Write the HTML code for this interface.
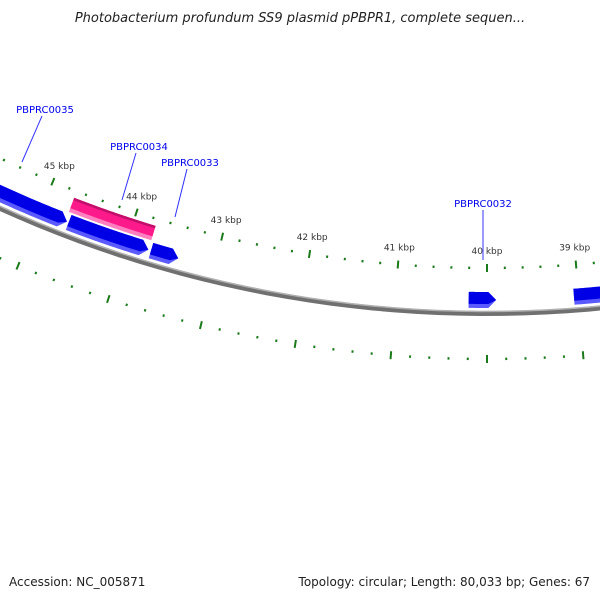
<!DOCTYPE html>
<html><head><meta charset="utf-8"><style>
body{margin:0;background:#fff}
svg{display:block;font-family:"DejaVu Sans","Liberation Sans",sans-serif}
</style></head><body>
<svg id="map" width="600" height="600" viewBox="0 0 600 600">
<text x="300" y="22" text-anchor="middle" font-size="13" font-style="italic" fill="#222">Photobacterium profundum SS9 plasmid pPBPR1, complete sequen...</text>
<g id="ticks"></g>
<g id="backbone"></g>
<g id="genes"></g>
<g id="labels"></g>
<text x="9" y="586" font-size="12" fill="#222">Accession: NC_005871</text>
<text x="590" y="586" text-anchor="end" font-size="12" fill="#222">Topology: circular; Length: 80,033 bp; Genes: 67</text>
</svg>
<script>
const geneNames=["gene-a","PBPRC0034b","PBPRC0033","PBPRC0034","PBPRC0032","gene-e"];
const geneStart=[44.69,43.75,43.41,43.75,39.90,37.5];
const geneEnd=[46.8,44.67,43.72,44.71,40.20,39.05];
const geneTrack=[1,1,1,2,1,1];
const geneArrow=[1,1,1,0,1,1];
const labelNames=["PBPRC0035","PBPRC0034","PBPRC0033","PBPRC0032"];
const labelKbp=[45.25,44.2,43.5,40.04];
const tickKbp=[36,37,38,39,40,41,42,43,44,45,46,47];
const genomeKbp=80.033;
const NS="http://www.w3.org/2000/svg";
const cx=487,cy=-867,R=1180;
const dpk=360/genomeKbp*Math.PI/180;
function pt(k,r){const t=(k-40)*dpk;return [cx-r*Math.sin(t),cy+r*Math.cos(t)];}
function mk(tag,attrs,parent){const e=document.createElementNS(NS,tag);for(const a in attrs)e.setAttribute(a,attrs[a]);parent.appendChild(e);return e;}
function arc(k1,k2,r){let d="";const n=60;for(let i=0;i<=n;i++){const p=pt(k1+(k2-k1)*i/n,r);d+=(i?"L":"M")+p[0].toFixed(2)+" "+p[1].toFixed(2);}return d;}
const bb=document.getElementById("backbone");
let e=mk("path",{d:arc(34,48,R+0.5),fill:"none",stroke:"#707070","stroke-width":5},bb);


e=mk("path",{d:arc(34,48,R-1.5),fill:"none",stroke:"#b0b0b0","stroke-width":1.5},bb);


const tg=document.getElementById("ticks");
for(let i=0;i<tickKbp.length;i++){
  const k=tickKbp[i];
  for(let j=0;j<5;j++){
    const kk=k+j*0.2;
    const major=j===0;
    [1135,1226].forEach(rr=>{
      const a=pt(kk,rr-(major?4:1.2)),b=pt(kk,rr+(major?4:1.2));
      const l=mk("line",{x1:a[0],y1:a[1],x2:b[0],y2:b[1],stroke:"#1a7a1a","stroke-width":2},tg);
      
      
    });
  }
  const p=pt(k,1118);
  const t=mk("text",{x:p[0],y:p[1]+3,"text-anchor":"middle","font-size":9,fill:"#333"},tg);
  t.textContent=k+" kbp";
  
  
}
const gg=document.getElementById("genes");
const trackR={1:[1159,1175],2:[1142,1157]};
for(let i=0;i<geneNames.length;i++){
  const [r1,r2]=trackR[geneTrack[i]];
  const s=geneStart[i],en=geneEnd[i];
  const head=geneArrow[i]?0.085:0;
  const pink=geneTrack[i]===2;
  const g=mk("g",{},gg);
  
  
  function shape(ra,rb,col){
    let d=arc(en,s+head,ra);
    const tip=pt(s,(r1+r2)/2);
    const back=arc(s+head,en,rb).replace("M","L");
    if(head)d+="L"+tip[0]+" "+tip[1];
    d+=back+"Z";
    mk("path",{d:d,fill:col},g);
  }
  if(pink){shape(r1,r2,"#ff7fc0");shape(r1,r2-4,"#ff1a8c");shape(r1,r1+2.5,"#c0106a");}
  else{shape(r1,r2,"#5a5aff");shape(r1,r2-4,"#0000e6");}
}
const lg=document.getElementById("labels");
const labelPos=[[45,113,22,162],[139,150,122,200],[190,166,175,217],[483,207,483,260]];
for(let i=0;i<labelNames.length;i++){
  const lp=labelPos[i];
  const l=mk("line",{x1:lp[0]-3+(i==3?3:0),y1:lp[1]+3,x2:lp[2],y2:lp[3],stroke:"#3333ff","stroke-width":1},lg);
  
  
  const t=mk("text",{x:lp[0],y:lp[1],"text-anchor":"middle","font-size":10,fill:"#0000ee"},lg);
  t.textContent=labelNames[i];
  
  
}
</script>
</body></html>
